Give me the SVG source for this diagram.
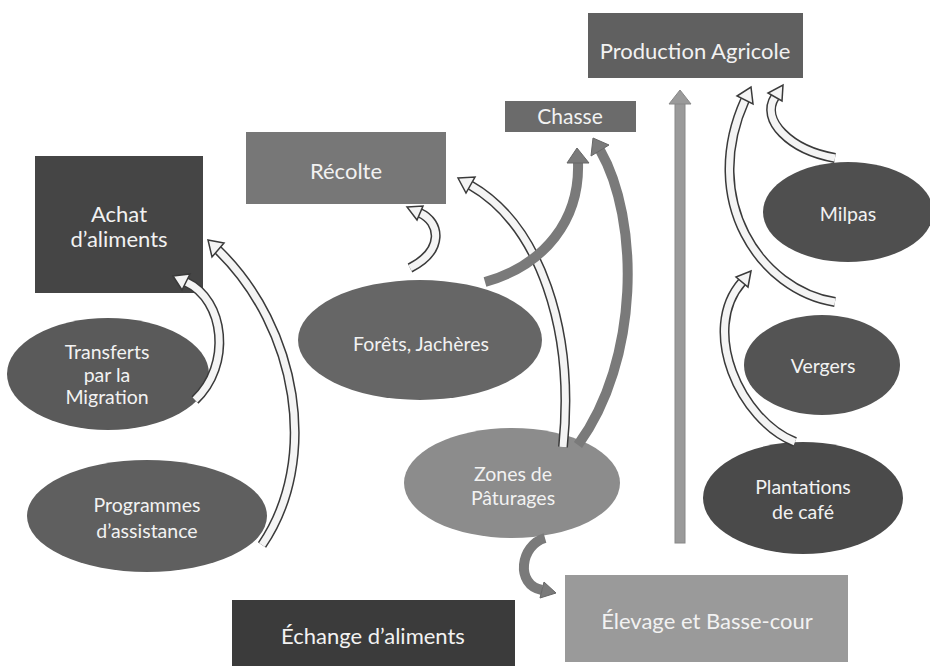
<svg xmlns="http://www.w3.org/2000/svg" width="930" height="666" viewBox="0 0 930 666">
<style>
.lbl{font-family:Lato,"Open Sans","Liberation Sans",sans-serif;fill:#f2f2f2;text-anchor:middle}
.big{font-size:22px}
.sm{font-size:19.5px}
.hol-o{fill:none;stroke:#3a3a3a;stroke-width:10;stroke-linecap:butt}
.hol-i{fill:none;stroke:#f4f4f4;stroke-width:7;stroke-linecap:butt}
.hol-h{fill:#f4f4f4;stroke:#3a3a3a;stroke-width:1.5;stroke-linejoin:miter}
.gry{fill:none;stroke:#7a7a7a;stroke-width:10}
.gry-h{fill:#7a7a7a;stroke:#666;stroke-width:1}
</style>
<rect width="930" height="666" fill="#ffffff"/>

<g id="production-agricole"><rect x="588" y="13" width="215" height="65" fill="#606060"/><text class="lbl big" x="695" y="59">Production Agricole</text></g>
<g id="chasse"><rect x="505" y="101" width="131" height="31" fill="#6b6b6b"/><text class="lbl" style="font-size:21px" x="570" y="124">Chasse</text></g>
<g id="recolte"><rect x="246" y="132" width="200" height="72" fill="#777777"/><text class="lbl big" x="346" y="179">Récolte</text></g>
<g id="achat"><rect x="35" y="156" width="168" height="137" fill="#454545"/><text class="lbl big" x="119" y="222">Achat</text><text class="lbl big" x="119" y="247">d’aliments</text></g>
<g id="transferts"><ellipse cx="108" cy="374" rx="101" ry="56" fill="#5a5a5a"/><text class="lbl sm" x="107" y="359">Transferts</text><text class="lbl sm" x="107" y="382">par la</text><text class="lbl sm" x="107" y="404">Migration</text></g>
<g id="programmes"><ellipse cx="147" cy="516" rx="120" ry="56" fill="#5f5f5f"/><text class="lbl sm" x="147" y="512">Programmes</text><text class="lbl sm" x="147" y="538">d’assistance</text></g>
<g id="forets"><ellipse cx="420" cy="340" rx="122" ry="60" fill="#666666"/><text class="lbl sm" x="421" y="351">Forêts, Jachères</text></g>
<g id="zones"><ellipse cx="512" cy="483" rx="108" ry="55" fill="#8c8c8c"/><text class="lbl sm" x="513" y="481">Zones de</text><text class="lbl sm" x="513" y="505">Pâturages</text></g>
<g id="milpas"><ellipse cx="848" cy="212" rx="85" ry="50" fill="#4f4f4f"/><text class="lbl sm" x="848" y="221">Milpas</text></g>
<g id="vergers"><ellipse cx="822" cy="365" rx="78" ry="50" fill="#545454"/><text class="lbl sm" x="823" y="373">Vergers</text></g>
<g id="plantations"><ellipse cx="803" cy="498" rx="100" ry="56" fill="#4a4a4a"/><text class="lbl sm" x="803" y="494">Plantations</text><text class="lbl sm" x="803" y="519">de café</text></g>
<g id="elevage"><rect x="565" y="575" width="283" height="87" fill="#9a9a9a"/><text class="lbl big" x="707" y="629">Élevage et Basse-cour</text></g>
<g id="echange"><rect x="232" y="600" width="283" height="66" fill="#3b3b3b"/><text class="lbl big" x="373" y="644">Échange d’aliments</text></g>

<g id="connectors">
  <rect x="675" y="102" width="10" height="441" fill="#9a9a9a" stroke="#888" stroke-width="1"/>
  <polygon points="680,90 669,104 691,104" fill="#9a9a9a" stroke="#888" stroke-width="1"/>

  <path class="hol-o" d="M195,400 C232,365 225,300 186,282"/>
  <path class="hol-i" d="M195,400 C232,365 225,300 186,282"/>
  <polygon class="hol-h" points="173,276 190,274 182,290"/>

  <path class="hol-o" d="M262,545 C320,460 298,328 218,250"/>
  <path class="hol-i" d="M262,545 C320,460 298,328 218,250"/>
  <polygon class="hol-h" points="208,240 224,243 212,257"/>

  <path class="hol-o" d="M410,268 C445,250 440,222 420,213"/>
  <path class="hol-i" d="M410,268 C445,250 440,222 420,213"/>
  <polygon class="hol-h" points="407,207 423,206 417,220"/>

  <path class="hol-o" d="M563,447 C575,330 540,225 470,185"/>
  <path class="hol-i" d="M563,447 C575,330 540,225 470,185"/>
  <polygon class="hol-h" points="458,178 475,177 466,193"/>

  <path class="gry" d="M485,282 C545,265 580,220 578,162"/>
  <polygon class="gry-h" points="577,148 567,163 589,163"/>

  <path class="gry" d="M578,445 C640,360 640,220 600,150"/>
  <polygon class="gry-h" points="593,138 609,145 591,156"/>

  <path class="hol-o" d="M835,302 C760,290 700,200 745,100"/>
  <path class="hol-i" d="M835,302 C760,290 700,200 745,100"/>
  <polygon class="hol-h" points="751,87 753,104 737,96"/>

  <path class="hol-o" d="M835,158 C790,150 760,120 775,97"/>
  <path class="hol-i" d="M835,158 C790,150 760,120 775,97"/>
  <polygon class="hol-h" points="783,85 782,101 768,93"/>

  <path class="hol-o" d="M795,442 C740,420 700,330 742,282"/>
  <path class="hol-i" d="M795,442 C740,420 700,330 742,282"/>
  <polygon class="hol-h" points="751,271 748,287 736,277"/>

  <path class="gry" d="M545,538 C520,545 515,585 542,590"/>
  <polygon class="gry-h" points="556,593 540,598 544,582"/>
</g>
</svg>
